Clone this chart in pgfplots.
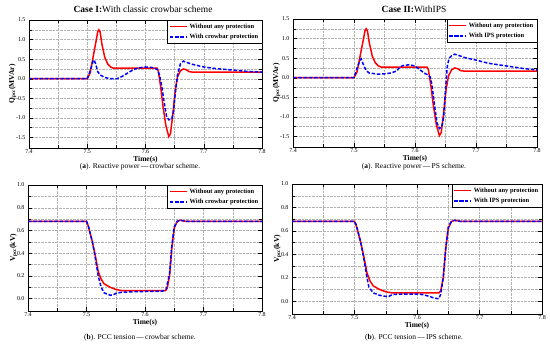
\documentclass[border=0pt]{standalone}
\usepackage{fontspec}
\setmainfont{Liberation Serif}
\usepackage{pgfplots}
\pgfplotsset{compat=1.18}
\pgfplotstableread{
x y
7.40 0
7.50 0
7.505 0.15
7.51 0.55
7.515 0.95
7.518 1.2
7.52 1.25
7.522 1.2
7.525 0.9
7.53 0.55
7.535 0.38
7.54 0.3
7.545 0.27
7.55 0.27
7.62 0.27
7.622 0.2
7.626 -0.2
7.63 -0.7
7.635 -1.2
7.64 -1.48
7.643 -1.4
7.647 -0.9
7.651 -0.3
7.655 0.05
7.66 0.2
7.665 0.25
7.67 0.23
7.675 0.18
7.68 0.17
7.8 0.17
}\redQ
\pgfplotstableread{
x y
7.4 0
7.5 0
7.505 0.2
7.51 0.45
7.512 0.48
7.515 0.35
7.518 0.18
7.522 0.1
7.53 0.03
7.54 0.0
7.55 0.0
7.555 0.02
7.56 0.06
7.57 0.15
7.58 0.24
7.59 0.28
7.6 0.3
7.61 0.29
7.615 0.27
7.62 0.24
7.624 0.1
7.628 -0.2
7.632 -0.6
7.636 -0.95
7.64 -1.05
7.645 -1.03
7.648 -0.85
7.651 -0.4
7.655 0.1
7.66 0.38
7.665 0.45
7.67 0.42
7.68 0.37
7.7 0.3
7.72 0.26
7.75 0.22
7.78 0.18
7.8 0.17
}\blueQa
\pgfplotstableread{
x y
7.4 0
7.5 0
7.505 0.25
7.51 0.45
7.512 0.48
7.515 0.35
7.52 0.18
7.525 0.12
7.54 0.09
7.55 0.1
7.56 0.12
7.57 0.17
7.575 0.27
7.58 0.31
7.59 0.33
7.6 0.3
7.605 0.24
7.61 0.18
7.615 0.12
7.62 0.08
7.625 0.02
7.628 -0.2
7.632 -0.7
7.636 -1.15
7.64 -1.3
7.644 -1.25
7.647 -1.0
7.65 -0.3
7.653 0.3
7.656 0.5
7.66 0.56
7.665 0.6
7.67 0.58
7.68 0.52
7.7 0.45
7.72 0.37
7.75 0.3
7.78 0.23
7.8 0.2
}\blueQb
\pgfplotstableread{
x y
7.4 0.68
7.5 0.68
7.503 0.64
7.51 0.5
7.515 0.38
7.52 0.24
7.525 0.17
7.53 0.13
7.54 0.1
7.55 0.08
7.56 0.07
7.635 0.07
7.638 0.09
7.642 0.2
7.646 0.45
7.65 0.62
7.655 0.68
7.66 0.69
7.665 0.685
7.67 0.68
7.8 0.68
}\redV
\pgfplotstableread{
x y
7.4 0.68
7.5 0.68
7.503 0.64
7.51 0.5
7.515 0.36
7.52 0.2
7.525 0.1
7.53 0.05
7.54 0.03
7.545 0.03
7.55 0.045
7.56 0.055
7.58 0.06
7.63 0.065
7.636 0.08
7.642 0.22
7.646 0.47
7.65 0.63
7.655 0.68
7.66 0.69
7.665 0.685
7.67 0.68
7.8 0.68
}\blueVa
\pgfplotstableread{
x y
7.4 0.68
7.5 0.68
7.503 0.65
7.51 0.5
7.515 0.36
7.52 0.2
7.523 0.12
7.53 0.07
7.54 0.05
7.55 0.04
7.555 0.04
7.56 0.055
7.57 0.06
7.6 0.06
7.61 0.055
7.62 0.04
7.628 0.025
7.635 0.02
7.638 0.06
7.642 0.2
7.646 0.45
7.65 0.63
7.655 0.68
7.66 0.69
7.665 0.685
7.67 0.68
7.8 0.68
}\blueVb
\pgfplotsset{
  base/.style={
    scale only axis,
    xmin=7.4, xmax=7.8,
    xtick={7.4,7.5,7.6,7.7,7.8},
    minor x tick num=1,
    minor y tick num=1,
    grid=both,
    major grid style={gray!60, densely dotted},
    minor grid style={gray!60, densely dotted},
    tick style={black, thin},
    tick align=inside,
    axis line style={black, thin},
    ticklabel style={font=\fontsize{6}{7}\selectfont},
    x tick label style={inner sep=1.2pt},
    /pgf/number format/assume math mode=true,
    /pgf/number format/fixed,
    /pgf/number format/fixed zerofill,
    /pgf/number format/precision=1,
    xlabel={\textbf{Time(s)}},
    xlabel style={font=\fontsize{7.5}{8}\selectfont, inner sep=1pt, yshift=0pt},
    ylabel style={font=\fontsize{7.5}{8}\selectfont\bfseries, yshift=-7pt},
    legend style={at={(1,1)}, anchor=north east, font=\fontsize{6.5}{7.5}\selectfont\bfseries, draw=black, inner sep=1.5pt, row sep=0.5pt, cells={anchor=west}},
    legend cell align=left,
  },
  qax/.style={base, ymin=-1.77, ymax=1.5, ytick={-1.5,-1,-0.5,0,0.5,1,1.5},
    ylabel={Q$_{\mathbf{pcc}}$(MVAr)}},
  vax/.style={base, ymin=-0.11, ymax=1.0, ytick={0,0.2,0.4,0.6,0.8,1.0},
    ylabel={V$_{\mathbf{pcc}}$(kV)}},
  redl/.style={red, line width=1.5pt},
  bluel/.style={blue, line width=1.5pt, dash pattern=on 3.5pt off 1.8pt},
}
\begin{document}
\begin{tikzpicture}
\useasboundingbox (0,0) rectangle (550bp,344bp);
% A
\begin{axis}[qax, at={(29bp,324bp)}, anchor=north west, width=233bp, height=128bp]
\addplot[redl] table {\redQ};
\addlegendentry{Without any protection}
\addplot[bluel] table {\blueQa};
\addlegendentry{With crowbar protection}
\end{axis}
% B
\begin{axis}[qax, at={(293bp,325bp)}, anchor=north west, width=244bp, height=128bp]
\addplot[redl] table {\redQ};
\addlegendentry{Without any protection}
\addplot[bluel] table {\blueQb};
\addlegendentry{With IPS protection}
\end{axis}
% C
\begin{axis}[vax, at={(28bp,159bp)}, anchor=north west, width=234bp, height=126bp]
\addplot[redl] table {\redV};
\addlegendentry{Without any protection}
\addplot[bluel] table {\blueVa};
\addlegendentry{With crowbar protection}
\end{axis}
% D
\begin{axis}[vax, at={(292bp,160bp)}, anchor=north west, width=250bp, height=130bp]
\addplot[redl] table {\redV};
\addlegendentry{Without any protection}
\addplot[bluel] table {\blueVb};
\addlegendentry{With IPS protection}
\end{axis}
\node[font=\fontsize{9.5}{10}\selectfont] at (143bp,335bp) {\textbf{Case I:}With classic crowbar scheme};
\node[font=\fontsize{9.5}{10}\selectfont] at (414bp,335bp) {\textbf{Case II:}WithIPS};
\node[font=\fontsize{7.5}{8}\selectfont] at (140bp,177bp) {(\textbf{a}). Reactive power\,---\,crowbar scheme.};
\node[font=\fontsize{7.5}{8}\selectfont] at (414bp,177bp) {(\textbf{a}). Reactive power\,---\,PS scheme.};
\node[font=\fontsize{7.5}{8}\selectfont] at (140bp,6bp) {(\textbf{b}). PCC tension\,---\,crowbar scheme.};
\node[font=\fontsize{7.5}{8}\selectfont] at (414bp,6bp) {(\textbf{b}). PCC tension\,---\,IPS scheme.};
\end{tikzpicture}
\end{document}
